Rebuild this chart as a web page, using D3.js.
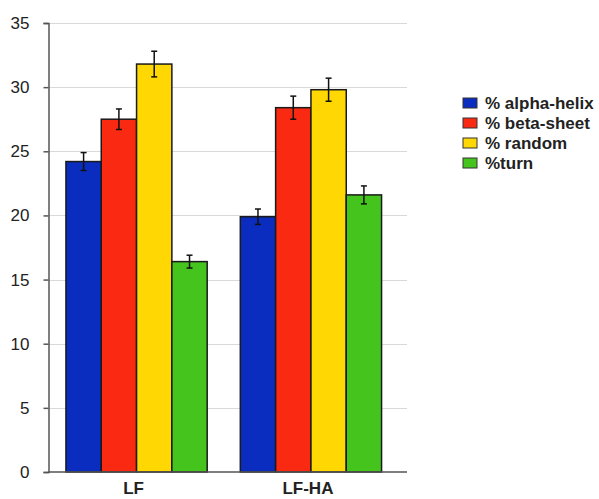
<!DOCTYPE html>
<html>
<head>
<meta charset="utf-8">
<script src="https://cdn.jsdelivr.net/npm/d3@7/dist/d3.min.js"></script>
<style>
  html, body { margin: 0; padding: 0; background: #fff; }
  svg { display: block; font-family: "Liberation Sans", Arial, sans-serif; }
</style>
</head>
<body>
<svg id="chart" width="599" height="499"></svg>
<script>
// Secondary-structure composition per sample
const categories = ["LF", "LF-HA"];
const series = ["% alpha-helix", "% beta-sheet", "% random", "%turn"];
const colors = ["#0a2dbf", "#fa2a12", "#ffd804", "#46c41e"];
const valuesLF   = [24.2, 27.5, 31.8, 16.4];
const valuesLFHA = [19.9, 28.4, 29.8, 21.6];
const errorsLF   = [0.7, 0.8, 1.0, 0.5];
const errorsLFHA = [0.6, 0.9, 0.9, 0.7];
const yTicks = [0, 5, 10, 15, 20, 25, 30, 35];

const table = categories.map((c, i) => ({
  category: c,
  values: (i === 0 ? valuesLF : valuesLFHA).map((v, j) => ({
    key: series[j],
    value: v,
    err: (i === 0 ? errorsLF : errorsLFHA)[j],
    color: colors[j]
  }))
}));

const svg = d3.select("#chart");
const plotLeft = 48.5, plotRight = 407, plotTop = 23, plotBottom = 472;

const y = d3.scaleLinear().domain([0, 35]).range([plotBottom, plotTop]);
const x0 = d3.scaleBand().domain(categories).range([plotLeft, 399])
  .paddingInner(0.19).paddingOuter(0.1);
const x1 = d3.scaleBand().domain(series).range([0, x0.bandwidth()]);

// horizontal gridlines
svg.append("g").selectAll("line").data(yTicks.filter(t => t > 0)).join("line")
  .attr("x1", plotLeft).attr("x2", plotRight)
  .attr("y1", d => Math.round(y(d)) + 0.5).attr("y2", d => Math.round(y(d)) + 0.5)
  .attr("stroke", "#d9d9d9").attr("stroke-width", 1.2);

// bars
const groups = svg.append("g").selectAll("g").data(table).join("g")
  .attr("transform", d => `translate(${x0(d.category)},0)`);

groups.selectAll("rect").data(d => d.values).join("rect")
  .attr("x", d => x1(d.key))
  .attr("y", d => y(d.value))
  .attr("width", x1.bandwidth())
  .attr("height", d => y(0) - y(d.value))
  .attr("fill", d => d.color)
  .attr("stroke", "#1a1a1a").attr("stroke-width", 1.5);

// error bars
const eb = groups.selectAll("g.err").data(d => d.values).join("g").attr("class", "err");
eb.append("line")
  .attr("x1", d => x1(d.key) + x1.bandwidth() / 2).attr("x2", d => x1(d.key) + x1.bandwidth() / 2)
  .attr("y1", d => y(d.value + d.err)).attr("y2", d => y(d.value - d.err))
  .attr("stroke", "#111").attr("stroke-width", 1.5);
eb.selectAll("line.cap").data(d => [
  { c: x1(d.key) + x1.bandwidth() / 2, v: d.value + d.err },
  { c: x1(d.key) + x1.bandwidth() / 2, v: d.value - d.err }
]).join("line").attr("class", "cap")
  .attr("x1", d => d.c - 3).attr("x2", d => d.c + 3)
  .attr("y1", d => y(d.v)).attr("y2", d => y(d.v))
  .attr("stroke", "#111").attr("stroke-width", 1.5);

// y axis
const yAxis = svg.append("g").attr("transform", `translate(${plotLeft},0)`)
  .call(d3.axisLeft(y).tickValues(yTicks).tickSize(5).tickPadding(14));
yAxis.select(".domain").attr("stroke", "#555").attr("stroke-width", 1.5);
yAxis.selectAll(".tick line").attr("stroke", "#555").attr("stroke-width", 1.5);
yAxis.selectAll("text").attr("fill", "#222").style("font-size", "17px");

// x axis
const xAxis = svg.append("g").attr("transform", `translate(0,${plotBottom})`);
xAxis.append("line").attr("x1", plotLeft).attr("x2", plotRight).attr("y1", 0).attr("y2", 0)
  .attr("stroke", "#555").attr("stroke-width", 1.5);
xAxis.selectAll("text").data(categories).join("text")
  .attr("x", d => x0(d) + x0.bandwidth() / 2 - 3)
  .attr("y", 22)
  .attr("text-anchor", "middle")
  .attr("fill", "#222")
  .style("font-size", "17px").style("font-weight", "bold")
  .text(d => d);

// legend
const legend = svg.append("g").attr("transform", "translate(463,98)");
const li = legend.selectAll("g").data(series).join("g")
  .attr("transform", (d, i) => `translate(0,${i * 20})`);
li.append("rect").attr("width", 14).attr("height", 10)
  .attr("fill", (d, i) => colors[i]).attr("stroke", "#333").attr("stroke-width", 1);
li.append("text").attr("x", 22).attr("y", 11)
  .attr("fill", "#222").style("font-size", "17px").style("font-weight", "bold")
  .text(d => d);
</script>
</body>
</html>
